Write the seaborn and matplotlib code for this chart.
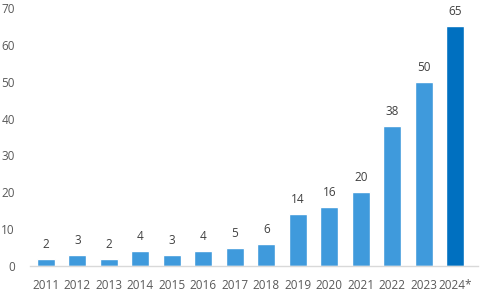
import matplotlib
matplotlib.use("Agg")
import matplotlib.pyplot as plt
import seaborn as sns
import pandas as pd

years = ["2011", "2012", "2013", "2014", "2015", "2016", "2017", "2018",
         "2019", "2020", "2021", "2022", "2023", "2024*"]
values = [2, 3, 2, 4, 3, 4, 5, 6, 14, 16, 20, 38, 50, 65]
yticks = [0, 10, 20, 30, 40, 50, 60, 70]

sns.set_theme(style="white")
plt.rcParams['font.family'] = ['Open Sans', 'DejaVu Sans']

df = pd.DataFrame({"year": years, "value": values})
palette = ["#3F9ADC"] * (len(years) - 1) + ["#0070C0"]

fig = plt.figure(figsize=(4.8, 2.95), dpi=100)
ax = fig.add_axes([0.063, 0.098, 0.933, 0.875])
sns.barplot(data=df, x="year", y="value", hue="year", palette=palette,
            legend=False, width=0.57, ax=ax, saturation=1)

for i, v in enumerate(values):
    ax.text(i, v + 2.2, str(v), ha="center", va="bottom", fontsize=8.5, color="#404040")

ax.set_ylim(0, 70)
ax.set_yticks(yticks)
ax.set_xlim(-0.5, len(years) - 0.27)
ax.set_xlabel("")
ax.set_ylabel("")
ax.tick_params(axis="both", labelsize=8.5, colors="#595959", length=0)
ax.tick_params(axis="x", pad=9)
ax.tick_params(axis="y", pad=11)
for s in ["top", "right", "left"]:
    ax.spines[s].set_visible(False)
ax.spines["bottom"].set_color("#D9D9D9")
ax.spines["bottom"].set_linewidth(1)

fig.savefig("out.png", dpi=100)
